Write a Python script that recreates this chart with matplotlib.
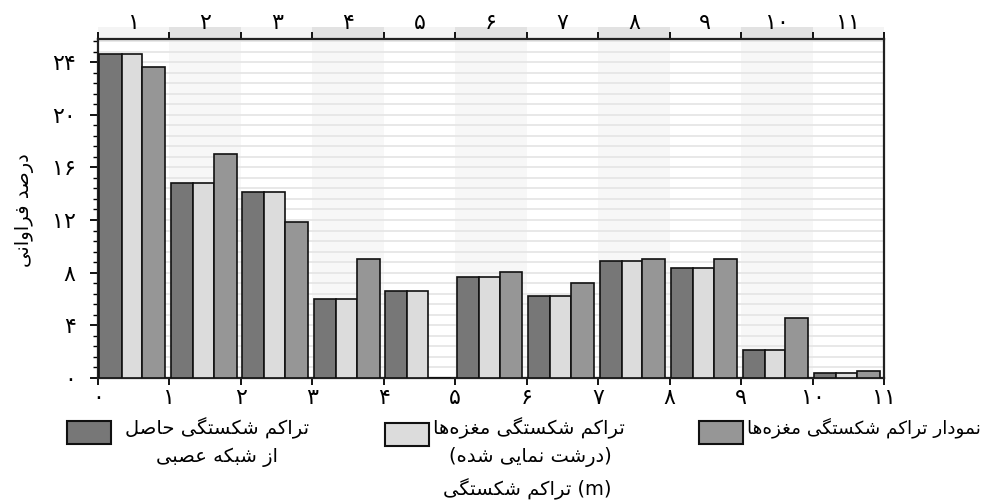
import matplotlib
matplotlib.use("Agg")
import matplotlib.pyplot as plt
from matplotlib.patches import Rectangle
import matplotlib.transforms as mtransforms

# --- data ---
categories = [1, 2, 3, 4, 5, 6, 7, 8, 9, 10, 11]
neural_net = [24.6, 14.8, 14.1, 6.0, 6.6, 7.7, 6.2, 8.9, 8.35, 2.1, 0.4]
core_scaled = [24.6, 14.8, 14.1, 6.0, 6.6, 7.7, 6.2, 8.9, 8.35, 2.1, 0.4]
core_hist = [23.6, 17.0, 11.85, 9.05, 0.0, 8.05, 7.25, 9.05, 9.05, 4.55, 0.55]

fa_digits = "۰۱۲۳۴۵۶۷۸۹"
y_ticks = [0, 4, 8, 12, 16, 20, 24]
x_ticks = list(range(0, 12))

label_net = ["تراکم شکستگی حاصل", "از شبکه عصبی"]
label_scaled = ["تراکم شکستگی مغزه‌ها", "(درشت نمایی شده)"]
label_hist = ["نمودار تراکم شکستگی مغزه‌ها"]
y_title = "درصد فراوانی"
x_title = "تراکم شکستگی"

colors = ["#777777", "#dcdcdc", "#969696"]

# --- tiny Persian shaper: matplotlib has no bidi / contextual shaping ---
# (isolated, final, initial, medial)
FORMS = {
    "ا": ("\uFE8D", "\uFE8E", None, None),
    "د": ("\uFEA9", "\uFEAA", None, None),
    "ر": ("\uFEAD", "\uFEAE", None, None),
    "ز": ("\uFEAF", "\uFEB0", None, None),
    "و": ("\uFEED", "\uFEEE", None, None),
    "ب": ("\uFE8F", "\uFE90", "\uFE91", "\uFE92"),
    "ت": ("\uFE95", "\uFE96", "\uFE97", "\uFE98"),
    "ح": ("\uFEA1", "\uFEA2", "\uFEA3", "\uFEA4"),
    "س": ("\uFEB1", "\uFEB2", "\uFEB3", "\uFEB4"),
    "ش": ("\uFEB5", "\uFEB6", "\uFEB7", "\uFEB8"),
    "ص": ("\uFEB9", "\uFEBA", "\uFEBB", "\uFEBC"),
    "ع": ("\uFEC9", "\uFECA", "\uFECB", "\uFECC"),
    "غ": ("\uFECD", "\uFECE", "\uFECF", "\uFED0"),
    "ف": ("\uFED1", "\uFED2", "\uFED3", "\uFED4"),
    "ل": ("\uFEDD", "\uFEDE", "\uFEDF", "\uFEE0"),
    "م": ("\uFEE1", "\uFEE2", "\uFEE3", "\uFEE4"),
    "ن": ("\uFEE5", "\uFEE6", "\uFEE7", "\uFEE8"),
    "ه": ("\uFEE9", "\uFEEA", "\uFEEB", "\uFEEC"),
    "ک": ("\uFB8E", "\uFB8F", "\uFB90", "\uFB91"),
    "گ": ("\uFB92", "\uFB93", "\uFB94", "\uFB95"),
    "ی": ("\uFBFC", "\uFBFD", "\uFBFE", "\uFBFF"),
}


def fa(s):
    out = []
    for i, c in enumerate(s):
        if c not in FORMS:
            out.append(c)
            continue
        prev = s[i - 1] if i > 0 else None
        nxt = s[i + 1] if i + 1 < len(s) else None
        jp = prev in FORMS and FORMS[prev][2] is not None
        jn = FORMS[c][2] is not None and nxt in FORMS
        iso, fin, ini, med = FORMS[c]
        out.append(med if jp and jn else fin if jp else ini if jn else iso)
    vis = "".join(out).replace("\u200c", "")[::-1]
    return vis.translate(str.maketrans("()", ")("))


def fa_num(n):
    return "".join(fa_digits[int(d)] for d in str(n))


W, H = 992, 504
fig = plt.figure(figsize=(W / 100, H / 100), dpi=100)
ax = fig.add_axes([98 / W, 1 - 378 / H, (884 - 98) / W, (378 - 39) / H])
blend = mtransforms.blended_transform_factory(ax.transData, ax.transAxes)

# alternating column shading + column numbers on top
for i in categories:
    if i % 2 == 0:
        ax.axvspan(i - 1, i, color="#f7f7f7", zorder=0, lw=0)
    ax.add_patch(Rectangle((i - 1, 1.0), 1, 0.036, transform=blend,
                           facecolor="#e2e2e2" if i % 2 == 0 else "#f4f4f4",
                           lw=0, clip_on=False, zorder=0))
    ax.text(i - 0.5, 1.048, fa_num(i), transform=blend,
            ha="center", va="center", fontsize=16)

x = [c - 1 for c in categories]
ax.bar([v + 0.02 for v in x], neural_net, width=0.31, align="edge",
       color=colors[0], edgecolor="#111111", lw=1.2, zorder=3)
ax.bar([v + 0.33 for v in x], core_scaled, width=0.29, align="edge",
       color=colors[1], edgecolor="#111111", lw=1.2, zorder=3)
ax.bar([v + 0.62 for v in x], core_hist, width=0.32, align="edge",
       color=colors[2], edgecolor="#111111", lw=1.2, zorder=3)

ax.set_xlim(0, 11)
ax.set_ylim(0, 25.75)
ax.set_yticks(y_ticks)
ax.set_yticklabels([fa_num(v) for v in y_ticks], fontsize=16)
ax.set_yticks([k * 0.8 for k in range(33)], minor=True)
ax.set_xticks(x_ticks)
ax.set_xticklabels([fa_num(v) for v in x_ticks], fontsize=16)

ax.grid(axis="y", which="both", color="#e6e6e6", lw=1.3, zorder=1)
ax.set_axisbelow(True)
ax.tick_params(axis="x", top=True, direction="out", length=5, width=1.3, pad=2)
ax.tick_params(axis="y", which="major", length=6, width=1.3, pad=10)
ax.tick_params(axis="y", which="minor", length=3.5, width=1.0)
for s in ax.spines.values():
    s.set_linewidth(1.6)
    s.set_color("#222222")

fig.text(24 / W, 1 - 210 / H, fa(y_title), rotation=90, ha="center", va="center", fontsize=14)
fig.text(527 / W, 1 - 489 / H, fa(x_title) + " (m)", ha="center", va="center", fontsize=14)

# legend drawn by hand: swatch on the left, Persian text on the right
legend_items = [
    (67, 421, colors[0], label_net, 125, 217, 14),
    (385, 423, colors[1], label_scaled, 433, 530, 14),
    (699, 421, colors[2], label_hist, 747, 0, 13.2),
]
for sx, sy, col, lines, tx0, cx2, fs in legend_items:
    fig.patches.append(Rectangle((sx / W, 1 - (sy + 23) / H), 44 / W, 23 / H,
                                 transform=fig.transFigure, facecolor=col,
                                 edgecolor="#111111", lw=1.5))
    fig.text(tx0 / W, 1 - 428 / H, fa(lines[0]), ha="left", va="center", fontsize=fs)
    if len(lines) > 1:
        fig.text(cx2 / W, 1 - 457 / H, fa(lines[1]), ha="center", va="center", fontsize=fs)

fig.savefig("out.png", dpi=100)
